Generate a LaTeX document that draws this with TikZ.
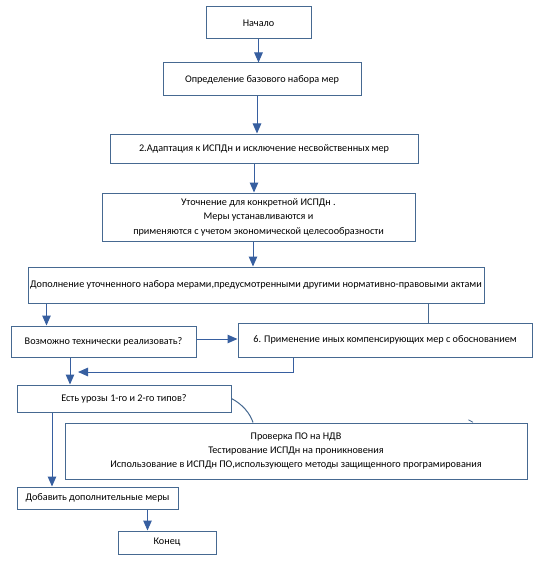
\documentclass[tikz,border=0pt]{standalone}
\usepackage{fontspec}
\setmainfont{Carlito}
\usetikzlibrary{arrows.meta}
\definecolor{boxc}{RGB}{70,105,145}
\definecolor{arrc}{RGB}{55,95,160}
\tikzset{
  box/.style={draw=boxc, line width=1pt, fill=white, inner sep=0pt, align=center,
    font=\fontsize{10.2}{14.4}\selectfont, text=black},
  arr/.style={draw=arrc, line width=1pt, -{Triangle[length=10pt,width=8.5pt]}, arrc},
  ln/.style={draw=boxc, line width=1pt}
}
\begin{document}
\begin{tikzpicture}[x=1pt,y=-1pt]
\useasboundingbox[fill=white] (0,0) rectangle (538,567);
\node[box, minimum width=105, minimum height=32] (start) at (258.5,23) {Начало};
\node[box, minimum width=198, minimum height=33] (def) at (262,79.5) {Определение базового набора мер};
\node[box, minimum width=308, minimum height=29] (adapt) at (264,148.5) {2.Адаптация к ИСПДн и исключение несвойственных мер};
\node[box, minimum width=313, minimum height=48] (ut) at (258.5,217) {Уточнение для конкретной ИСПДн .\\Меры устанавливаются и\\применяются с учетом экономической целесообразности};
\node[box, minimum width=456, minimum height=36] (dop) at (256,285) {Дополнение уточненного набора мерами,предусмотренными другими нормативно-правовыми актами};
\node[box, minimum width=185, minimum height=31] (voz) at (103.5,341.5) {Возможно технически реализовать?};
\node[box, minimum width=294, minimum height=34] (six) at (385,340) {6. Применение иных компенсирующих мер с обоснованием};
\node[box, minimum width=214, minimum height=27] (est) at (124,398.5) {Есть урозы 1-го и 2-го типов?};
\node[box, minimum width=462, minimum height=56] (prov) at (296,451) {Проверка ПО на НДВ\\Тестирование ИСПДн на проникновения\\Использование в ИСПДн ПО,использующего методы защищенного програмирования};
\node[box, minimum width=161, minimum height=22] (dob) at (97.5,498) {Добавить дополнительные меры};
\node[box, minimum width=98, minimum height=23] (kon) at (167,542.5) {Конец};
\coordinate (join) at (78,372);

\draw[arr] (start.south) -- (start.south |- def.north);
\draw[arr] ([xshift=-5]def.south) -- ([xshift=-5]def.south |- adapt.north);
\draw[arr] ([xshift=-10]adapt.south) -- ([xshift=-10]adapt.south |- ut.north);
\draw[arr] ([xshift=-5.5]ut.south) -- ([xshift=-5.5]ut.south |- dop.north);
\draw[arr] ([xshift=19]dop.south west) -- ([xshift=19]dop.south west |- voz.north);
\draw[ln] ([xshift=-56]dop.south east) -- ([xshift=-56]dop.south east |- six.north);
\draw[arr] ([yshift=2.5]voz.east) -- ([yshift=2.5]voz.east -| six.west);
\draw[arr] ([xshift=-92]six.south) |- (join);
\draw[arr] ([xshift=-33.5]voz.south) -- ([xshift=-33.5]voz.south |- est.north);
\draw[ln] (est.east) .. controls (242,404) and (250,413) .. ([xshift=-43]prov.north);
\draw[ln, line width=0.8pt] (468.5,419.8) -- (473,422.3);
\draw[arr] ([xshift=-72]est.south) -- ([xshift=-72]est.south |- dob.north);
\draw[arr] ([xshift=50]dob.south) -- ([xshift=50]dob.south |- kon.north);
\end{tikzpicture}
\end{document}
